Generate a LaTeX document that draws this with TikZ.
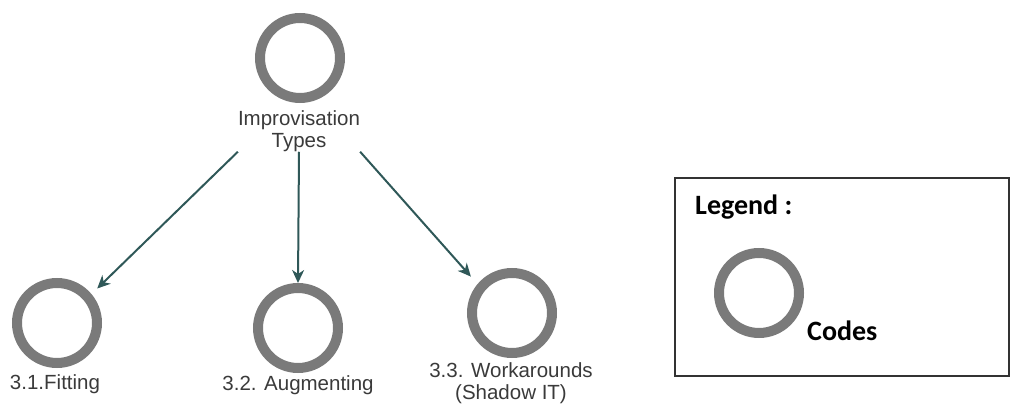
\documentclass[tikz,border=0pt]{standalone}
\usepackage{fontspec}
\setmainfont{Liberation Sans}
\newfontfamily\legfont{Carlito}
\usepackage{tikz}
\usetikzlibrary{arrows.meta, positioning}
\definecolor{ringgray}{HTML}{7A7A7A}
\definecolor{arrowteal}{HTML}{2F5858}
\definecolor{txtgray}{HTML}{3A3A3A}
\tikzset{
  code/.style  ={circle, draw=ringgray, line width=10pt, minimum size=80pt, inner sep=0pt},
  lbl/.style   ={align=center, inner sep=0pt, text=txtgray,
                 font=\fontsize{20.5}{22}\selectfont},
  legtxt/.style={inner sep=0pt, anchor=base west, font=\legfont\bfseries\fontsize{28}{30}\selectfont},
  legbox/.style={rectangle, draw=black!80, line width=1.5pt, minimum width=334pt,
                 minimum height=198pt, inner sep=0pt},
  flow/.style  ={-{Stealth[length=13pt, width=12pt, inset=4pt]}, draw=arrowteal, line width=2pt},
}
\begin{document}
\begin{tikzpicture}[x=1pt, y=-1pt]
  \useasboundingbox (0,0) rectangle (1010,406);
  \node[code]   (types)    at (300,58)  {};
  \node[lbl]    (typestxt) at (299,131) {Improvisation\\Types};
  \node[code]   (fit)      at (57,323)  {};
  \node[lbl, anchor=base] (fittxt) at (55,389) {3.1.Fitting};
  \node[code]   (aug)      at (298,328) {};
  \node[lbl, anchor=base] (augtxt) at (298,390) {3.2. Augmenting};
  \node[code]   (wrk)      at (512,313) {};
  \node[lbl]    (wrktxt)   at (511,383) {3.3. Workarounds\\(Shadow IT)};
  \draw[flow, shorten >=8pt]  (typestxt.south west) -- (fit.40);
  \draw[flow]                 (typestxt.south) -- (aug.north);
  \draw[flow, shorten >=10pt] (typestxt.south east) -- (wrk.140);
  \node[legbox] (legend)  at (842,277) {};
  \node[legtxt] (legname) at (695,215) {Legend :};
  \node[code]   (legcode) at (759,293) {};
  \node[legtxt] (legcodes) at (807,341) {Codes};
\end{tikzpicture}
\end{document}
